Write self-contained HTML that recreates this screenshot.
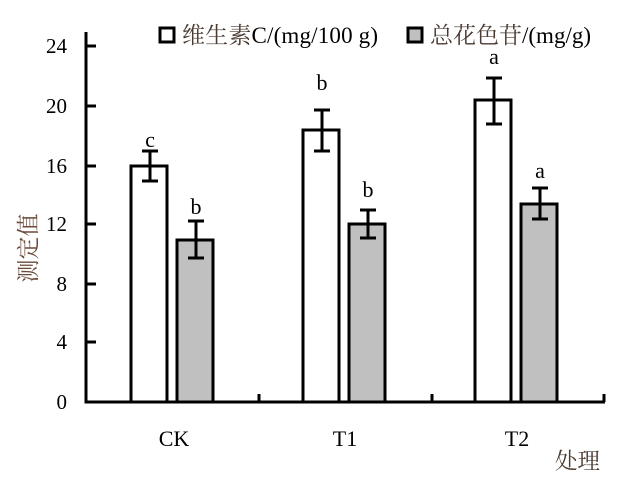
<!DOCTYPE html>
<html><head><meta charset="utf-8"><style>body{margin:0;background:#fff}svg{display:block}</style></head><body>
<svg width="624" height="480" xmlns="http://www.w3.org/2000/svg" font-family="'Liberation Serif','Noto Serif CJK SC',serif">
<g stroke="#000" stroke-width="3" fill="none">
<line x1="86" y1="32" x2="86" y2="403"/>
<line x1="84.5" y1="402" x2="605" y2="402"/>
<line x1="86" y1="46" x2="96" y2="46"/><line x1="86" y1="106" x2="96" y2="106"/><line x1="86" y1="166" x2="96" y2="166"/><line x1="86" y1="224" x2="96" y2="224"/><line x1="86" y1="284" x2="96" y2="284"/><line x1="86" y1="342" x2="96" y2="342"/>
<line x1="259" y1="402" x2="259" y2="394"/><line x1="432" y1="402" x2="432" y2="394"/><line x1="604" y1="402" x2="604" y2="394"/>
<rect x="131" y="166" width="36" height="236" fill="#fff"/>
<rect x="177" y="240" width="36" height="162" fill="#c0c0c0"/>
<rect x="303" y="130" width="36" height="272" fill="#fff"/>
<rect x="349" y="224" width="36" height="178" fill="#c0c0c0"/>
<rect x="475" y="100" width="36" height="302" fill="#fff"/>
<rect x="521" y="204" width="36" height="198" fill="#c0c0c0"/>
<path d="M150 151V181M142 151H158M142 181H158"/>
<path d="M196 221V258M188 221H204M188 258H204"/>
<path d="M322 110V151M314 110H330M314 151H330"/>
<path d="M368 210V238M360 210H376M360 238H376"/>
<path d="M494 78V124M486 78H502M486 124H502"/>
<path d="M540 188V219M532 188H548M532 219H548"/>
<rect x="160" y="28" width="14" height="14" fill="#fff"/>
<rect x="408" y="28" width="14" height="14" fill="#c0c0c0"/>
</g>
<g font-size="21" text-anchor="end" fill="#000">
<text x="67" y="53">24</text><text x="67" y="113">20</text><text x="67" y="173">16</text><text x="67" y="231">12</text><text x="67" y="291">8</text><text x="67" y="349">4</text><text x="67" y="409">0</text>
</g>
<g font-size="22" text-anchor="middle" fill="#000">
<text x="174" y="446">CK</text><text x="345" y="446">T1</text><text x="517" y="446">T2</text>
<text x="150" y="147">c</text><text x="196" y="214">b</text><text x="322" y="90">b</text><text x="368" y="197">b</text><text x="494" y="64">a</text><text x="540" y="178">a</text>
</g>
<text x="182" y="43" font-size="23" fill="#000" textLength="196"><tspan fill="#4a3a30">维生素</tspan>C/(mg/100 g)</text>
<text x="430" y="43" font-size="23" fill="#000" textLength="161"><tspan fill="#4a3a30">总花色苷</tspan>/(mg/g)</text>
<text transform="translate(36,248) rotate(-90)" font-size="23" text-anchor="middle" fill="#6b4a3a">测定值</text>
<text x="555" y="469" font-size="22.5" fill="#4a3a30">处理</text>
</svg>
</body></html>
